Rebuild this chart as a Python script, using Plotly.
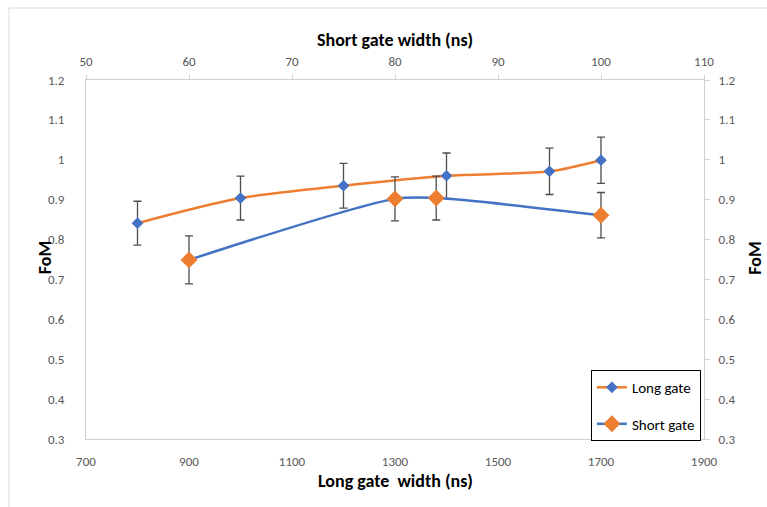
import plotly.graph_objects as go

# Long gate: FoM vs long gate width (bottom axis)
long_gate_ns = [800, 1000, 1200, 1400, 1600, 1700]
long_fom = [0.841, 0.904, 0.935, 0.960, 0.971, 0.999]
long_err = [0.055, 0.055, 0.056, 0.057, 0.058, 0.058]

# Short gate: FoM vs short gate width (top axis)
short_gate_ns = [60, 80, 84, 100]
short_fom = [0.749, 0.902, 0.904, 0.861]
short_err = [0.060, 0.055, 0.055, 0.057]

# Axis ticks
long_ticks = [700, 900, 1100, 1300, 1500, 1700, 1900]
short_ticks = [50, 60, 70, 80, 90, 100, 110]
fom_ticks = [0.3, 0.4, 0.5, 0.6, 0.7, 0.8, 0.9, 1.0, 1.1, 1.2]
fom_labels = ["0.3", "0.4", "0.5", "0.6", "0.7", "0.8", "0.9", "1", "1.1", "1.2"]

ORANGE = "#ED7D31"
BLUE = "#4472C4"
ERR = "#4d4d4d"
AXIS = "#d0d0d0"
FONT = "Carlito, Lato, sans-serif"
TICKFONT = dict(family=FONT, size=13, color="#595959")

fig = go.Figure()

fig.add_trace(go.Scatter(
    x=long_gate_ns, y=long_fom, name="Long gate",
    mode="lines+markers", xaxis="x", yaxis="y",
    line=dict(color=ORANGE, width=2.5, shape="spline", smoothing=0.8),
    marker=dict(symbol="diamond", size=9, color=BLUE),
    error_y=dict(type="data", array=long_err, color=ERR, thickness=1.3, width=4),
    legendgroup="a",
))

fig.add_trace(go.Scatter(
    x=short_gate_ns, y=short_fom, name="Short gate",
    mode="lines+markers", xaxis="x2", yaxis="y",
    line=dict(color=BLUE, width=2.5, shape="spline", smoothing=0.8),
    marker=dict(symbol="diamond", size=13, color=ORANGE),
    error_y=dict(type="data", array=short_err, color=ERR, thickness=1.3, width=4),
    legendgroup="b",
))

# Dummy trace to host the mirrored right-hand FoM axis
fig.add_trace(go.Scatter(x=[None], y=[None], xaxis="x", yaxis="y2",
                         showlegend=False, hoverinfo="skip"))

fig.update_layout(
    width=767, height=507,
    margin=dict(l=86, r=63, t=80, b=68),
    paper_bgcolor="white", plot_bgcolor="white",
    font=dict(family=FONT),
    showlegend=True,
    xaxis=dict(
        range=[700, 1900], tickvals=long_ticks, showgrid=False, zeroline=False,
        showline=True, linecolor=AXIS, linewidth=1, ticks="",
        tickfont=TICKFONT, ticklabelstandoff=10,
    ),
    xaxis2=dict(
        range=[50, 110], tickvals=short_ticks, overlaying="x", side="top",
        showgrid=False, zeroline=False, showline=True, linecolor=AXIS,
        linewidth=1, ticks="outside", ticklen=4, tickcolor=AXIS,
        tickfont=TICKFONT, ticklabelstandoff=4,
    ),
    yaxis=dict(
        range=[0.3, 1.2], tickvals=fom_ticks, ticktext=fom_labels,
        showgrid=False, zeroline=False, showline=True, linecolor=AXIS,
        linewidth=1, ticks="", tickfont=TICKFONT, ticklabelstandoff=18,
    ),
    yaxis2=dict(
        range=[0.3, 1.2], tickvals=fom_ticks, ticktext=fom_labels,
        overlaying="y", side="right", showgrid=False, zeroline=False,
        showline=True, linecolor=AXIS, linewidth=1, ticks="outside",
        ticklen=5, tickcolor=AXIS, tickfont=TICKFONT, ticklabelstandoff=6,
    ),
    legend=dict(
        x=0.817, y=0.192, xanchor="left", yanchor="top",
        bordercolor="black", borderwidth=1, bgcolor="white",
        font=dict(family=FONT, size=15, color="black"),
        tracegroupgap=14, itemwidth=30,
    ),
)

# Axis titles
title_font = dict(family=FONT, size=18, color="black")
common = dict(xref="paper", yref="paper", showarrow=False, font=title_font,
              xanchor="center", yanchor="middle")
fig.add_annotation(text="<b>Short gate width (ns)</b>", x=0.5, y=1.111, **common)
fig.add_annotation(text="<b>Long gate  width (ns)</b>", x=0.5, y=-0.117, **common)
fig.add_annotation(text="<b>FoM</b>", x=-0.066, y=0.504, textangle=-90, **common)
fig.add_annotation(text="<b>FoM</b>", x=1.082, y=0.504, textangle=-90, **common)

# Chart-area frame (left and top edges)
fig.add_shape(type="line", xref="paper", yref="paper",
              x0=-0.1245, x1=-0.1245, y0=-0.3, y1=1.2006,
              line=dict(color="#d9d9d9", width=1))
fig.add_shape(type="line", xref="paper", yref="paper",
              x0=-0.1245, x1=1.2, y0=1.2006, y1=1.2006,
              line=dict(color="#d9d9d9", width=1))

fig.write_html("out.html")
